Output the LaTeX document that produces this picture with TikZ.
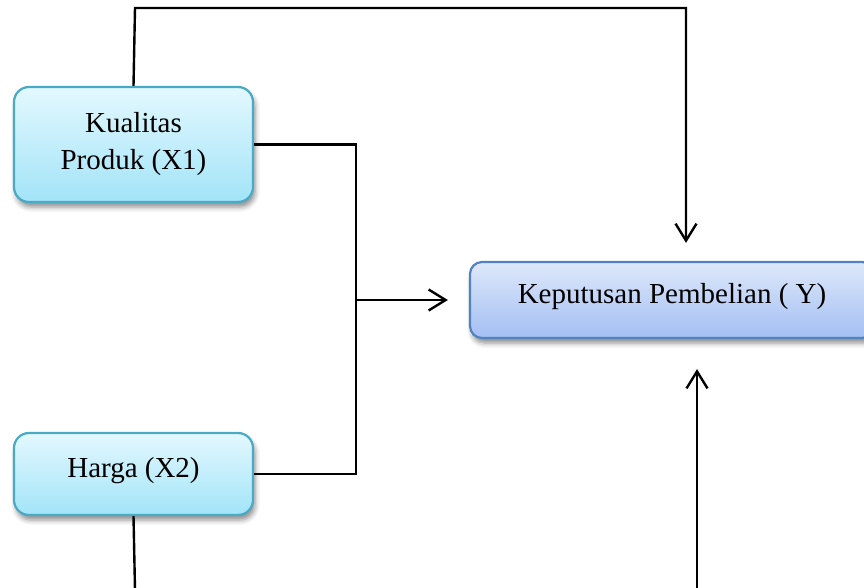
\documentclass[tikz,border=0pt]{standalone}
\usepackage{fontspec}
\setmainfont{Liberation Serif}
\usepackage{tikz}
\usetikzlibrary{arrows.meta,shadows.blur}

\definecolor{xtop}{HTML}{E3F8FE}
\definecolor{xbot}{HTML}{A2E4F8}
\definecolor{xline}{HTML}{4AA9C4}
\definecolor{ytop}{HTML}{DEE8FA}
\definecolor{ybot}{HTML}{A3BFF3}
\definecolor{yline}{HTML}{5283C0}

\begin{document}
\begin{tikzpicture}[x=1pt, y=-1pt,
    varbox/.style={draw=xline, line width=2.2pt, rounded corners=15pt,
        top color=xtop, bottom color=xbot, align=center,
        minimum width=239pt, inner sep=0pt,
        font=\fontsize{29}{37}\selectfont,
        blur shadow={shadow xshift=2pt, shadow yshift=-5pt,
            shadow blur radius=5pt, shadow opacity=45}},
    ybox/.style={varbox, draw=yline, rounded corners=12pt,
        top color=ytop, bottom color=ybot, minimum width=404pt},
    conn/.style={line width=2.4pt, black},
    arr/.style={conn, -{Straight Barb[length=17pt,width=21pt,line width=2.4pt]}}]

    \useasboundingbox (0,0) rectangle (864,588);

    \node[varbox, minimum height=115pt] (X1) at (133.5,144.5) {Kualitas\\Produk (X1)};
    \node[varbox, minimum height=82pt, text depth=14pt] (X2) at (133.5,474) {Harga (X2)};
    \node[ybox, minimum height=76pt, text depth=14pt] (Y) at (672,300) {Keputusan Pembelian ( Y)};

    \coordinate (J) at (356,300);
    \coordinate (TL) at (135,8);
    \coordinate (TR) at (686,8);
    \coordinate (BL) at (135,590);
    \coordinate (BR) at (697,590);

    % X1 and X2 joined, then into Y
    \draw[conn] (X1.east) -| (J) |- (X2.east);
    \draw[arr, shorten >=21pt] (J) -- (Y);

    % over the top into Y
    \draw[arr, shorten >=18pt] (X1.north) -- (TL) -- (TR) -- (TR |- Y.north);

    % from below
    \draw[conn] (X2.south) -- (BL);
    \draw[arr, shorten >=30pt] (BR) -- (BR |- Y.south);

\end{tikzpicture}
\end{document}
